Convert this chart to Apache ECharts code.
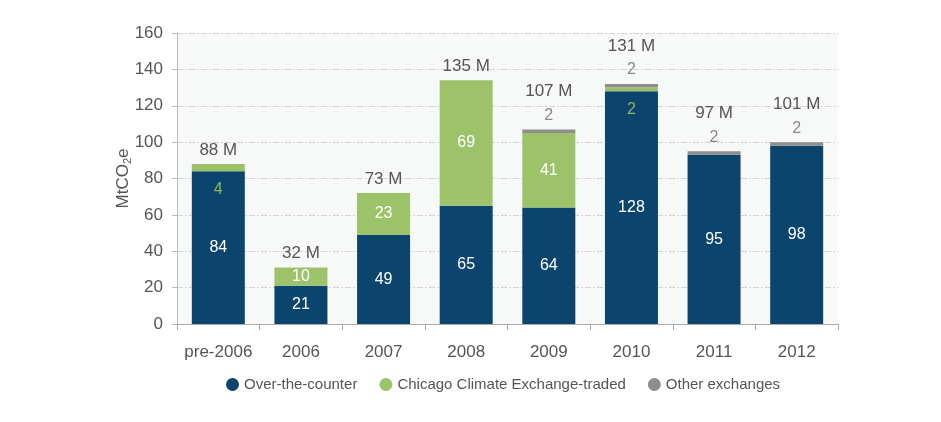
<!DOCTYPE html>
<html><head><meta charset="utf-8">
<script src="https://cdn.jsdelivr.net/npm/echarts@6/dist/echarts.min.js"></script>
<style>html,body{margin:0;padding:0;background:#fff}#c{width:941px;height:422px}</style>
</head><body><div id="c"></div>
<script>
const categories = ['pre-2006','2006','2007','2008','2009','2010','2011','2012'];
const otc = [84, 21, 49, 65, 64, 128, 93, 98];
const ccx = [4, 10, 23, 69, 41, 2, 0, 0];
const other = [0, 0, 0, 0, 2, 2, 2, 2];
const otcLabels = ['84','21','49','65','64','128','95','98'];
const totalLabels = ['88 M','32 M','73 M','135 M','107 M','131 M','97 M','101 M'];
const yTicks = [0, 20, 40, 60, 80, 100, 120, 140, 160];

const FONT = 'Liberation Sans';
const TXT = '#555';
const chart = echarts.init(document.getElementById('c'));
chart.setOption({
  animation: false,
  textStyle: {fontFamily: FONT},
  grid: {left: 177, right: 103, top: 33, bottom: 98, show: true, backgroundColor: '#f7f8f8', borderWidth: 0},
  legend: {
    data: ['Over-the-counter','Chicago Climate Exchange-traded','Other exchanges'],
    left: 221, top: 372, icon: 'circle', itemWidth: 13, itemHeight: 13, itemGap: 22,
    textStyle: {color: TXT, fontSize: 15, fontFamily: FONT}
  },
  xAxis: {
    type: 'category', data: categories,
    axisLine: {lineStyle: {color: '#aaa'}},
    axisTick: {show: true, alignWithLabel: false, length: 6, lineStyle: {color: '#aaa'}},
    axisLabel: {color: TXT, fontSize: 17, margin: 20, interval: 0, fontFamily: FONT}
  },
  yAxis: {
    type: 'value', min: yTicks[0], max: yTicks[yTicks.length-1], interval: 20,
    name: 'MtCO{s|2}e', nameLocation: 'middle', nameGap: 44, nameRotate: 90, nameMoveOverlap: false,
    nameTextStyle: {color: TXT, fontSize: 17, fontFamily: FONT, rich: {s: {fontSize: 11, color: TXT, verticalAlign: 'bottom', padding: [8,0,0,0]}}},
    axisLine: {show: true, lineStyle: {color: '#bbb'}},
    axisTick: {show: true, length: 5, lineStyle: {color: '#bbb'}},
    axisLabel: {color: TXT, fontSize: 17, margin: 14, fontFamily: FONT},
    splitLine: {lineStyle: {color: '#d4d4d4', type: [6,2,2,2]}}
  },
  series: [
    {name: 'Over-the-counter', type: 'bar', stack: 's', barWidth: 53, data: otc,
     itemStyle: {color: '#0b446d'},
     label: {show: true, position: 'inside', color: '#fff', fontSize: 16, fontFamily: FONT,
             formatter: p => otcLabels[p.dataIndex]}},
    {name: 'Chicago Climate Exchange-traded', type: 'bar', stack: 's', data: ccx.map((v,i) => ({
        value: v,
        label: v === 0 ? {show: false} : (v < 6 ? {show: true, position: 'bottom', color: '#8cb85c', distance: 10} : {show: true, position: 'inside', color: '#fff'})
      })),
     itemStyle: {color: '#9dc36a'},
     label: {show: true, fontSize: 16, fontFamily: FONT}},
    {name: 'Other exchanges', type: 'bar', stack: 's', data: other,
     itemStyle: {color: '#8e8e8e'},
     label: {show: false}},
    {name: 'total', type: 'bar', stack: 's', data: categories.map(() => 0),
     itemStyle: {color: 'transparent'},
     label: {show: true, position: 'top', distance: 2, fontFamily: FONT,
       formatter: p => other[p.dataIndex] > 0 ? '{t|' + totalLabels[p.dataIndex] + '}\n{o|' + other[p.dataIndex] + '}' : '{t|' + totalLabels[p.dataIndex] + '}',
       rich: {t: {fontSize: 17, color: TXT, lineHeight: 24, fontFamily: FONT}, o: {fontSize: 16, color: '#888', lineHeight: 24, fontFamily: FONT}}}}
  ]
});
</script></body></html>
